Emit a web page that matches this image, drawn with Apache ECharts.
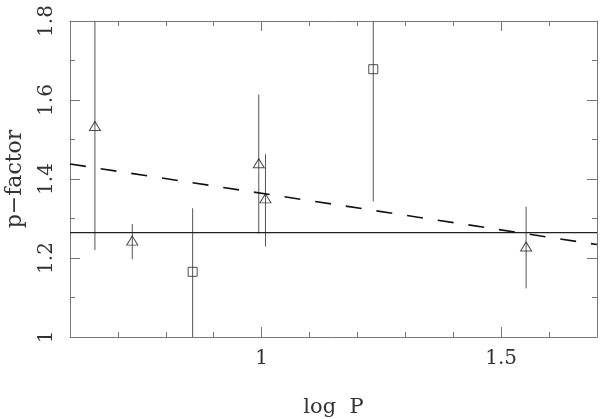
<!DOCTYPE html>
<html><head><meta charset="utf-8">
<script src="https://cdn.jsdelivr.net/npm/echarts@6/dist/echarts.min.js"></script>
<style>html,body{margin:0;padding:0;background:#fff}#c{width:600px;height:419px}</style>
</head><body><div id="c"></div>
<script>
// Data
const triLogP = [0.652, 0.730, 0.994, 1.008, 1.552];
const triPf   = [1.534, 1.244, 1.440, 1.351, 1.229];
const triLo   = [1.220, 1.197, 1.262, 1.229, 1.123];
const triHi   = [1.850, 1.286, 1.614, 1.463, 1.330];
const sqLogP  = [0.856, 1.233];
const sqPf    = [1.165, 1.678];
const sqLo    = [0.980, 1.343];
const sqHi    = [1.326, 1.850];
const meanPf  = 1.264;
const fitX    = [0.6, 1.7];
const fitY    = [1.438, 1.234];
const xMajor  = [1, 1.5];
const xMinor  = [0.7, 0.8, 0.9, 1.1, 1.2, 1.3, 1.4, 1.6];
const yMajor  = [1, 1.2, 1.4, 1.6, 1.8];
const yMinor  = [1.1, 1.3, 1.5, 1.7];

const FONT = 'DejaVu Serif';
const TXT = '#333';
const FRAME = '#777';

function xAx(pos, ticks, len, withLabel, withLine) {
  return {
    type: 'value', min: 0.6, max: 1.7, position: pos,
    splitLine: {show: false},
    axisLine: {show: withLine, lineStyle: {color: FRAME, width: 1}},
    axisTick: {show: true, inside: true, length: len, customValues: ticks, lineStyle: {color: FRAME, width: 1}},
    axisLabel: withLabel ? {show: true, customValues: ticks, color: TXT, fontFamily: FONT, fontSize: 20, margin: 12,
      formatter: v => String(v)} : {show: false},
    name: withLabel ? 'log  P' : '', nameLocation: 'middle', nameGap: 60,
    nameTextStyle: {color: TXT, fontFamily: FONT, fontSize: 21}
  };
}
function yAx(pos, ticks, len, withLabel, withLine) {
  return {
    type: 'value', min: 1, max: 1.8, position: pos,
    splitLine: {show: false},
    axisLine: {show: withLine, lineStyle: {color: FRAME, width: 1}},
    axisTick: {show: true, inside: true, length: len, customValues: ticks, lineStyle: {color: FRAME, width: 1}},
    axisLabel: withLabel ? {show: true, customValues: ticks, rotate: 90, color: TXT, fontFamily: FONT, fontSize: 20, margin: 13,
      formatter: v => String(v)} : {show: false},
    name: withLabel ? 'p\u2212factor' : '', nameLocation: 'middle', nameGap: 44,
    nameTextStyle: {color: TXT, fontFamily: FONT, fontSize: 22}
  };
}

const errData = triLogP.map((x, i) => [x, triLo[i], triHi[i]])
  .concat(sqLogP.map((x, i) => [x, sqLo[i], sqHi[i]]));

const chart = echarts.init(document.getElementById('c'), null, {renderer: 'canvas'});
chart.setOption({
  animation: false,
  backgroundColor: '#fff',
  grid: {left: 70, right: 3, top: 21, bottom: 82, containLabel: false, outerBoundsMode: 'none'},
  xAxis: [
    xAx('bottom', xMajor, 10, true, true),
    xAx('bottom', xMinor, 5, false, false),
    xAx('top', xMajor, 10, false, true),
    xAx('top', xMinor, 5, false, false)
  ],
  yAxis: [
    yAx('left', yMajor, 10, true, true),
    yAx('left', yMinor, 5, false, false),
    yAx('right', yMajor, 10, false, true),
    yAx('right', yMinor, 5, false, false)
  ],
  series: [
    {
      type: 'custom', clip: true, xAxisIndex: 0, yAxisIndex: 0,
      data: errData,
      renderItem: function (params, api) {
        const p1 = api.coord([api.value(0), api.value(1)]);
        const p2 = api.coord([api.value(0), api.value(2)]);
        return {type: 'line', shape: {x1: p1[0], y1: p1[1], x2: p2[0], y2: p2[1]},
          style: {stroke: '#555', lineWidth: 1}};
      }
    },
    {
      type: 'line', xAxisIndex: 0, yAxisIndex: 0, symbol: 'none',
      data: fitX.map(x => [x, meanPf]),
      lineStyle: {color: '#222', width: 1.2}
    },
    {
      type: 'line', xAxisIndex: 0, yAxisIndex: 0, symbol: 'none',
      data: fitX.map((x, i) => [x, fitY[i]]),
      lineStyle: {color: '#111', width: 1.6, type: [16, 15]}
    },
    {
      type: 'scatter', xAxisIndex: 0, yAxisIndex: 0,
      symbol: 'triangle', symbolSize: [11, 9],
      data: triLogP.map((x, i) => [x, triPf[i]]),
      itemStyle: {color: 'rgba(0,0,0,0)', borderColor: '#222', borderWidth: 1}
    },
    {
      type: 'scatter', xAxisIndex: 0, yAxisIndex: 0,
      symbol: 'rect', symbolSize: 9,
      data: sqLogP.map((x, i) => [x, sqPf[i]]),
      itemStyle: {color: 'rgba(0,0,0,0)', borderColor: '#222', borderWidth: 1}
    }
  ]
});
</script></body></html>
